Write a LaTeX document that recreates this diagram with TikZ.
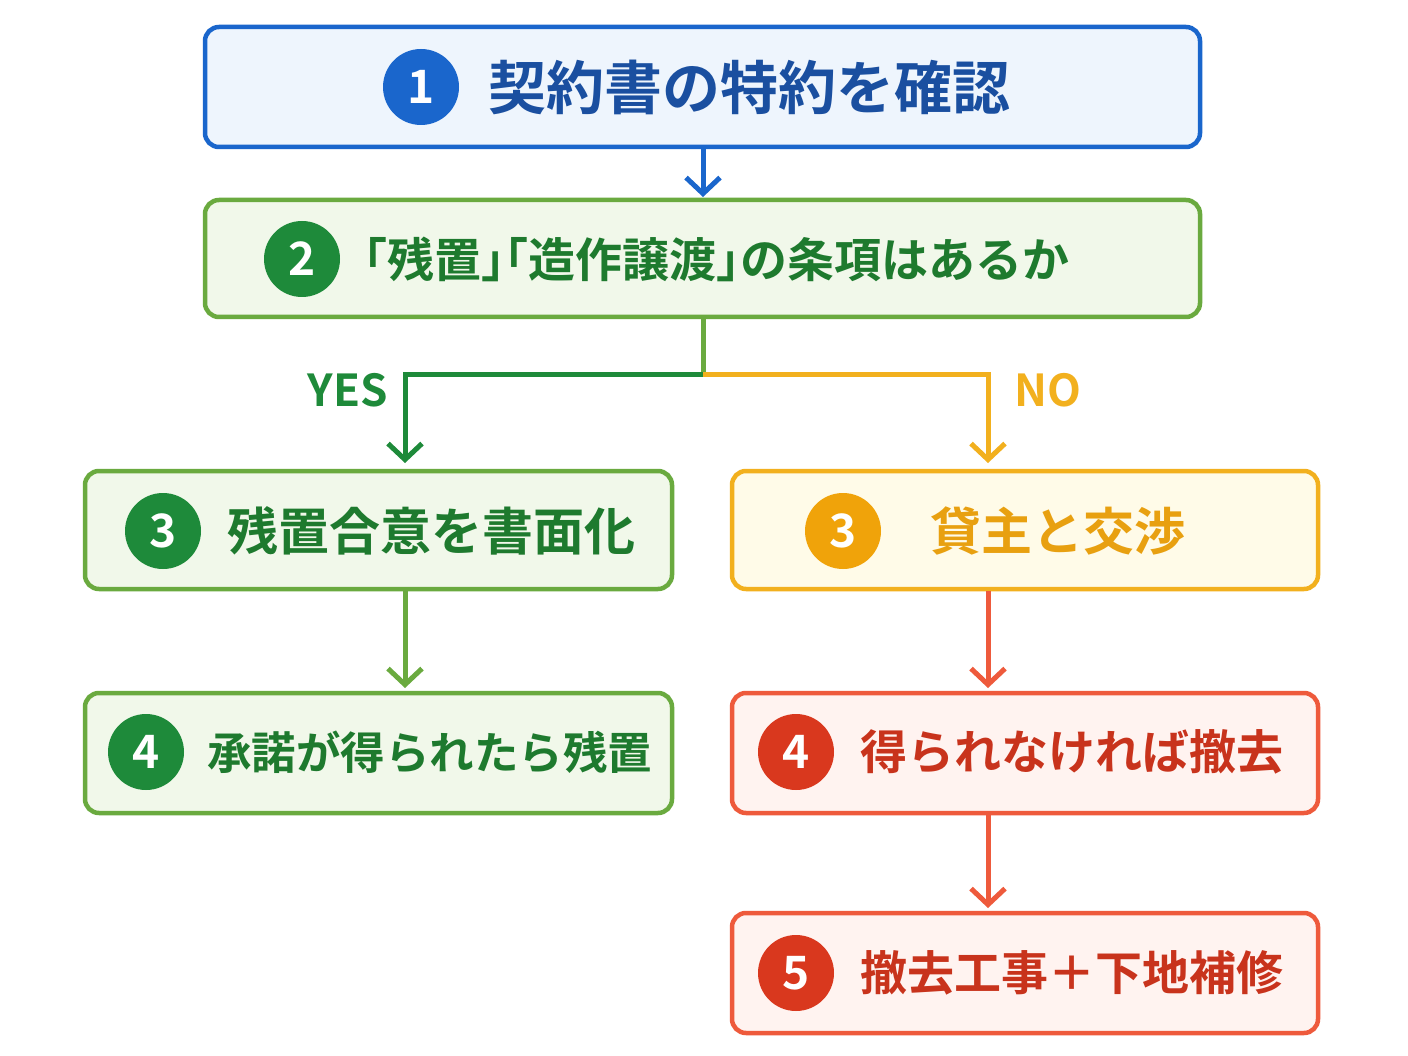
\documentclass[tikz,border=0pt]{standalone}
\usepackage{fontspec}
\newfontfamily\cjk{Noto Sans CJK JP Bold}
\newfontfamily\cjkh{Noto Sans CJK JP Bold}[RawFeature=+halt]
\usetikzlibrary{arrows.meta}
\definecolor{bl}{HTML}{1A66CC}\definecolor{blf}{HTML}{EEF5FD}\definecolor{blt}{HTML}{1A4FA0}
\definecolor{gr}{HTML}{6AAA3F}\definecolor{grf}{HTML}{F1F8EA}\definecolor{grd}{HTML}{1E8A3A}\definecolor{grt}{HTML}{1E7A2E}
\definecolor{ye}{HTML}{F2B01E}\definecolor{yef}{HTML}{FFFBE8}\definecolor{yed}{HTML}{F0A30A}\definecolor{yet}{HTML}{E8A010}
\definecolor{rd}{HTML}{EE5A3C}\definecolor{rdf}{HTML}{FFF3F0}\definecolor{rdd}{HTML}{D9381E}\definecolor{rdt}{HTML}{C8331C}
\begin{document}
\begin{tikzpicture}[x=1pt,y=-1pt,
 box/.style={draw=#1,line width=4.5pt,rounded corners=14pt},
 num/.style={circle,fill=#1,minimum size=76pt,inner sep=0pt,text=white,font=\cjk\fontsize{46}{46}\selectfont},
 lab/.style={anchor=west,inner sep=0pt,font=\cjk\fontsize{#1}{#1}\selectfont},
 arr/.style={line width=5pt,-{Straight Barb[length=16pt,width=34pt,line width=5pt]}}]
\fill[white] (0,0) rectangle (1408,1056);
\filldraw[box=bl,fill=blf] (205,27) rectangle (1200,147);
\node[num=bl] (n1) at (421,87) {1};
\node[lab=58,text=blt] (t1) at (488,87) {契約書の特約を確認};
\filldraw[box=gr,fill=grf] (205,200) rectangle (1200,317);
\node[num=grd] (n2) at (302,259) {2};
\node[anchor=west,inner sep=0pt,font=\cjkh\fontsize{47}{47}\selectfont,text=grt] (t2) at (364,259) {「残置」「造作譲渡」の条項はあるか};
\filldraw[box=gr,fill=grf] (85,471) rectangle (672,589);
\node[num=grd] (n3) at (163,531) {3};
\node[lab=51,text=grt] (t3) at (227,531) {残置合意を書面化};
\filldraw[box=gr,fill=grf] (85,693) rectangle (672,813);
\node[num=grd] (n4) at (146,752) {4};
\node[lab=44.5,text=grt] (t4) at (207,752) {承諾が得られたら残置};
\filldraw[box=ye,fill=yef] (732,471) rectangle (1318,589);
\node[num=yed] (m3) at (843,531) {3};
\node[lab=51,text=yet] (u3) at (930,531) {貸主と交渉};
\filldraw[box=rd,fill=rdf] (732,693) rectangle (1318,813);
\node[num=rdd] (m4) at (796,752) {4};
\node[lab=47,text=rdt] (u4) at (860,752) {得られなければ撤去};
\filldraw[box=rd,fill=rdf] (732,913) rectangle (1318,1033);
\node[num=rdd] (m5) at (796,973) {5};
\node[lab=47,text=rdt] (u5) at (860,973) {撤去工事＋下地補修};
\coordinate (a1) at (703,149); \coordinate (a2) at (703,197);
\draw[arr,bl] (a1) -- (a2);
\coordinate (s) at (703,319); \coordinate (j) at (703,375);
\coordinate (yl) at (405,375); \coordinate (yb) at (405,463);
\coordinate (nr) at (988,375); \coordinate (nb) at (988,463);
\draw[line width=5pt,gr] (s) -- (j);
\draw[arr,grd,line join=miter] (j) -- (yl) -- (yb);
\draw[arr,ye,line join=miter] (j) -- (nr) -- (nb);
\node[font=\cjk\fontsize{44}{44}\selectfont,text=grd] (yes) at (348,390) {YES};
\node[font=\cjk\fontsize{44}{44}\selectfont,text=ye] (no) at (1048,390) {NO};
\coordinate (g1) at (405,591); \coordinate (g2) at (405,688);
\draw[arr,gr] (g1) -- (g2);
\coordinate (r1) at (988,591); \coordinate (r2) at (988,688);
\draw[arr,rd] (r1) -- (r2);
\coordinate (r3) at (988,815); \coordinate (r4) at (988,908);
\draw[arr,rd] (r3) -- (r4);
\end{tikzpicture}
\end{document}
